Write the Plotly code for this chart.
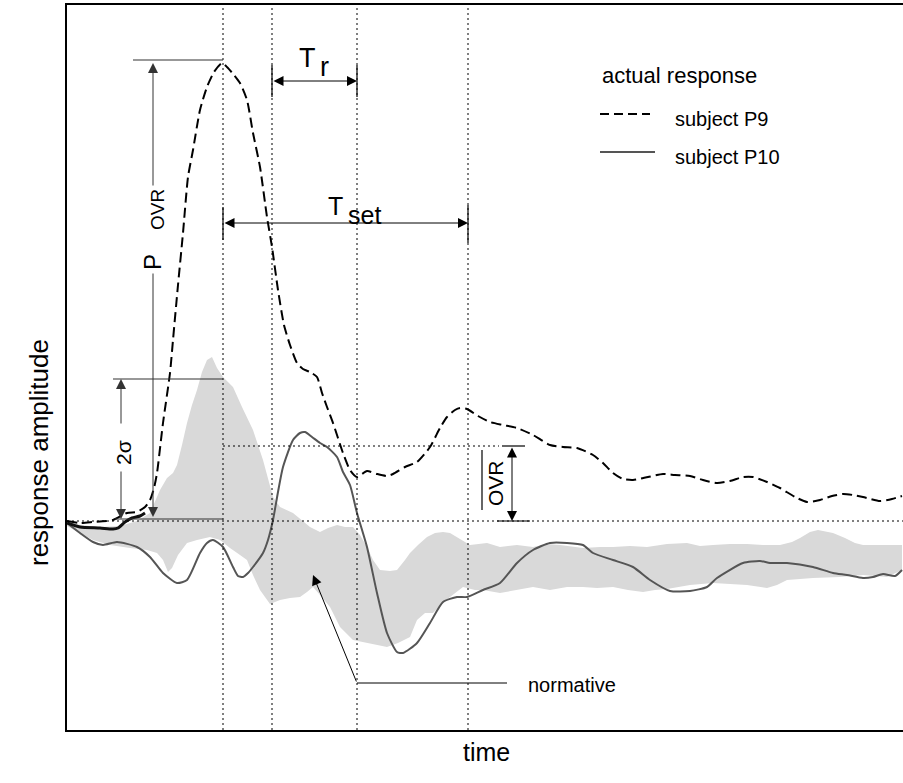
import plotly.graph_objects as go

# ---------------- data (time units, response amplitude units) ----------------
p9_t = [0, 13, 26, 46, 60, 70, 78, 83, 87, 90, 96, 103, 106, 111, 116, 121, 126, 133, 140, 147,
        155, 160, 167, 173, 180, 186, 193, 200, 205, 211, 217, 223, 230, 236, 243, 250, 255, 260,
        266, 276, 283, 290, 300, 310, 320, 326, 338, 350, 363, 373, 380, 388, 393, 400, 411, 423,
        436, 450, 466, 483, 496, 510, 526, 536, 546, 556, 566, 581, 596, 608, 623, 636, 650, 663,
        676, 686, 700, 713, 728, 740, 753, 765, 776, 786, 796, 813, 825, 835]
p9_a = [0, -2, -1, 1, 8, 9, 14, 21, 33, 48, 98, 148, 181, 236, 288, 344, 371, 411, 434, 449,
        458, 454, 446, 438, 421, 388, 354, 304, 274, 231, 196, 176, 158, 152, 149, 144, 128, 114,
        98, 68, 51, 44, 50, 47, 45, 47, 54, 59, 74, 93, 104, 111, 113, 112, 105, 99,
        96, 93, 86, 76, 74, 73, 66, 58, 48, 42, 41, 44, 47, 46, 45, 41, 38, 40,
        44, 44, 39, 33, 24, 19, 21, 25, 27, 26, 24, 20, 22, 25]

onset_t = [0, 13, 33, 46, 51, 58, 65, 73, 78]
onset_a = [-2, -6, -7, -8, -7, -1, 3, 5, 8]

p10_t = [0, 13, 26, 36, 50, 70, 83, 96, 110, 120, 133, 140, 146, 156, 166, 171, 176, 181, 186,
         196, 201, 206, 211, 216, 226, 233, 238, 245, 253, 260, 270, 276, 283, 290, 300, 310, 320,
         330, 336, 350, 363, 376, 390, 400, 416, 433, 450, 466, 483, 500, 516, 526, 546, 566, 583,
         603, 623, 640, 650, 676, 693, 703, 720, 746, 766, 780, 796, 806, 816, 828, 835]
p10_a = [-2, -12, -21, -24, -21, -26, -36, -52, -62, -59, -32, -22, -19, -26, -46, -55, -56, -52, -46,
         -32, -19, 1, 29, 54, 81, 88, 89, 84, 78, 74, 64, 49, 36, 8, -26, -72, -112,
         -131, -132, -122, -102, -81, -76, -76, -69, -62, -42, -29, -22, -22, -24, -32, -39, -46, -59,
         -70, -70, -66, -57, -42, -40, -42, -42, -46, -52, -54, -57, -56, -53, -55, -49]

norm_up_t = [0, 13, 33, 53, 70, 83, 93, 100, 106, 110, 115, 120, 125, 130, 135, 140, 145, 150, 156,
             166, 175, 186, 196, 206, 213, 226, 243, 253, 261, 270, 278, 286, 293, 300, 306, 313, 323,
             330, 338, 343, 351, 360, 368, 376, 383, 390, 403, 420, 433, 450, 466, 480, 493, 516, 533,
             546, 563, 580, 600, 620, 633, 646, 663, 680, 696, 713, 725, 733, 743, 751, 759, 766, 778,
             788, 796, 813, 835]
norm_up_a = [0, -4, -6, -5, 0, 8, 31, 43, 48, 56, 76, 98, 116, 131, 149, 161, 164, 153, 144,
             134, 114, 91, 61, 24, 14, 8, -6, -11, -7, -4, -6, -6, -14, -26, -39, -49, -50,
             -49, -39, -32, -24, -16, -12, -11, -12, -16, -24, -22, -26, -24, -26, -23, -24, -27, -26,
             -26, -25, -26, -23, -22, -25, -24, -23, -23, -24, -24, -21, -17, -11, -9, -11, -12, -17,
             -22, -24, -24, -24]
norm_lo_t = [0, 13, 26, 43, 63, 80, 90, 96, 101, 105, 111, 120, 130, 143, 153, 163, 173, 180, 186,
             193, 203, 213, 223, 233, 240, 246, 253, 263, 273, 286, 300, 310, 320, 331, 343, 350, 358,
             366, 374, 383, 396, 408, 416, 433, 450, 466, 483, 500, 516, 530, 546, 561, 576, 588, 600,
             623, 646, 663, 680, 700, 710, 720, 733, 746, 773, 796, 820, 835]
norm_lo_a = [-5, -12, -19, -24, -27, -29, -32, -39, -51, -47, -34, -22, -19, -16, -19, -27, -34, -39, -54,
             -69, -83, -79, -77, -76, -71, -66, -74, -86, -106, -119, -122, -124, -126, -122, -116, -99, -92,
             -92, -84, -76, -66, -69, -69, -72, -69, -66, -69, -66, -66, -67, -66, -69, -71, -69, -68,
             -64, -62, -63, -64, -67, -64, -59, -58, -57, -56, -54, -56, -49]

legend_title = "actual response"
series_names = ["subject P9", "subject P10"]

FONT = "Liberation Sans, Arial, Helvetica, sans-serif"
P10_COLOR = "#555555"
BAND = "#d9d9d9"

fig = go.Figure()

# normative band
fig.add_trace(go.Scatter(
    x=norm_up_t + norm_lo_t[::-1], y=norm_up_a + norm_lo_a[::-1],
    fill="toself", fillcolor=BAND, line=dict(width=0), mode="lines",
    hoverinfo="skip", showlegend=False))

fig.add_trace(go.Scatter(x=p10_t, y=p10_a, mode="lines", name=series_names[1],
                         line=dict(color=P10_COLOR, width=2, shape="spline", smoothing=0.6),
                         showlegend=False))
fig.add_trace(go.Scatter(x=onset_t, y=onset_a, mode="lines",
                         line=dict(color="#111111", width=3, shape="spline", smoothing=0.6),
                         showlegend=False))
fig.add_trace(go.Scatter(x=p9_t, y=p9_a, mode="lines", name=series_names[0],
                         line=dict(color="black", width=2, dash="10px,5px", shape="spline",
                                   smoothing=0.6),
                         showlegend=False))

shapes = []
DOT = dict(color="black", width=1, dash="2px,3px")
for xv in [156, 205, 290, 401]:
    shapes.append(dict(type="line", xref="x", yref="paper", x0=xv, x1=xv, y0=0, y1=1, line=DOT))
shapes.append(dict(type="line", xref="paper", yref="y", x0=0, x1=1, y0=0, y1=0, line=DOT))
shapes.append(dict(type="line", xref="x", yref="y", x0=156, x1=432, y0=75, y1=75, line=DOT))

def seg(x0, y0, x1, y1, color="#333333", width=1.2):
    shapes.append(dict(type="line", xref="x", yref="y", x0=x0, x1=x1, y0=y0, y1=y1,
                       line=dict(color=color, width=width)))

# P_OVR & 2 sigma guide lines
seg(66, 461, 156, 461)
seg(46, 142, 156, 142)
seg(48, 2, 156, 2)
# Tr ticks
seg(205, 424, 205, 456, "black")
seg(290, 424, 290, 456, "black")
# Tset ticks
seg(156, 281, 156, 314, "black")
seg(401, 278, 401, 316, "black")
# OVR ticks + overline
seg(435, 75, 458, 75, "black")
seg(430, 0, 463, 0, "black")
seg(415, 11, 415, 71, "black")
# normative leader
seg(290, -162, 440, -162, "black", 1)
# legend samples
shapes.append(dict(type="line", xref="x", yref="y", x0=533, x1=583, y0=407, y1=407,
                   line=dict(color="black", width=2, dash="9px,5px")))
shapes.append(dict(type="line", xref="x", yref="y", x0=533, x1=588, y0=369, y1=369,
                   line=dict(color=P10_COLOR, width=2)))

ann = []

def arrow(xh, yh, xt, yt, both=False, color="black", width=1):
    ann.append(dict(x=xh, y=yh, ax=xt, ay=yt, xref="x", yref="y", axref="x", ayref="y",
                    text="", showarrow=True, arrowhead=2, startarrowhead=2, arrowsize=2,
                    startarrowsize=2, arrowwidth=width, arrowcolor=color,
                    arrowside="end+start" if both else "end", standoff=0, startstandoff=0))

arrow(86, 458, 86, 334, color="#333333")
arrow(86, 4, 86, 249, color="#333333")
arrow(54, 142, 54, 96, color="#333333")
arrow(54, 2, 54, 51, color="#333333")
arrow(290, 440, 205, 440, both=True)
arrow(401, 298, 156, 298, both=True)
arrow(445, 0, 445, 75, both=True)
arrow(246, -54, 290, -162)

def txt(x, y, s, size, angle=0, xanchor="center", yanchor="middle", color="black"):
    ann.append(dict(x=x, y=y, xref="x", yref="y", text=s, showarrow=False, textangle=angle,
                    xanchor=xanchor, yanchor=yanchor, font=dict(family=FONT, size=size, color=color)))

txt(85, 259, "P", 24, -90)
txt(90, 311, "OVR", 19, -90)
txt(56, 68, "2σ", 21, -90)
txt(240, 463, "T", 27)
txt(257, 454, "r", 27)
txt(268, 315, "T", 25)
txt(297, 306, "set", 25)
txt(428, 38, "OVR", 21, -90)
txt(459, -164, "normative", 20, xanchor="left")
txt(533, 446, legend_title, 22, xanchor="left")
txt(606, 402, series_names[0], 20, xanchor="left")
txt(606, 364, series_names[1], 20, xanchor="left")

# axis titles (positions given in page pixels, converted to paper coords below)
ann.append(dict(x=22, y=453, xref="paper", yref="paper", text="response amplitude", showarrow=False,
                textangle=-90, font=dict(family=FONT, size=26, color="black")))
ann.append(dict(x=487, y=768, xref="paper", yref="paper", text="time", showarrow=False,
                font=dict(family=FONT, size=25, color="black")))

W, H = 903, 783
L, R, T, B = 67, 0, 5, 53
for a in ann[-2:]:
    a["x"] = (a["x"] - L) / (W - L - R)
    a["y"] = (H - B - a["y"]) / (H - T - B)

fig.update_layout(
    width=W, height=H, margin=dict(l=L, r=R, t=T, b=B),
    paper_bgcolor="white", plot_bgcolor="white",
    shapes=shapes, annotations=ann, showlegend=False,
    xaxis=dict(range=[0, 836], showgrid=False, zeroline=False, showticklabels=False, ticks="",
               showline=True, linecolor="black", linewidth=2, mirror=True),
    yaxis=dict(range=[-209, 516], showgrid=False, zeroline=False, showticklabels=False, ticks="",
               showline=True, linecolor="black", linewidth=2),
    font=dict(family=FONT),
)

fig.write_html("out.html")
